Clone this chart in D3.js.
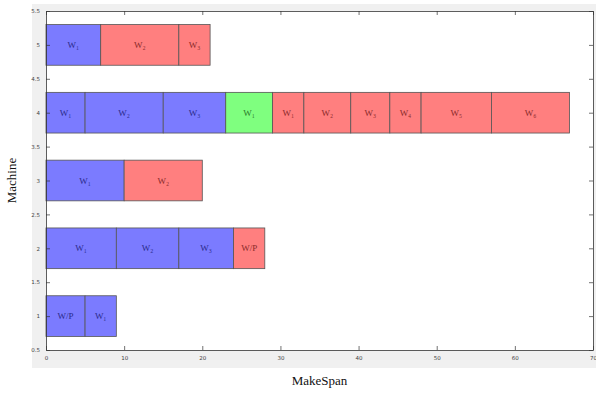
<!DOCTYPE html>
<html>
<head>
<meta charset="utf-8">
<script src="https://cdn.jsdelivr.net/npm/d3@7"></script>
<style>
  html, body { margin: 0; padding: 0; background: #fff; }
  svg { display: block; }
</style>
</head>
<body>
<svg id="chart" width="596" height="393"></svg>
<script>
// Schedule: one row per machine, operations as [start, end] with a type
const machines = [1, 2, 3, 4, 5];
const starts = [
  [0, 5],
  [0, 9, 17, 24],
  [0, 10],
  [0, 5, 15, 23, 29, 33, 39, 44, 48, 57],
  [0, 7, 17]
];
const ends = [
  [5, 9],
  [9, 17, 24, 28],
  [10, 20],
  [5, 15, 23, 29, 33, 39, 44, 48, 57, 67],
  [7, 17, 21]
];
const kinds = [
  ["b", "b"],
  ["b", "b", "b", "r"],
  ["b", "r"],
  ["b", "b", "b", "g", "r", "r", "r", "r", "r", "r"],
  ["b", "r", "r"]
];
const labels = [
  ["W/P", "W\u2081"],
  ["W\u2081", "W\u2082", "W\u2083", "W/P"],
  ["W\u2081", "W\u2082"],
  ["W\u2081", "W\u2082", "W\u2083", "W\u2081", "W\u2081", "W\u2082", "W\u2083", "W\u2084", "W\u2085", "W\u2086"],
  ["W\u2081", "W\u2082", "W\u2083"]
];
const xTicks = [0, 10, 20, 30, 40, 50, 60, 70];
const yTicks = [0.5, 1, 1.5, 2, 2.5, 3, 3.5, 4, 4.5, 5, 5.5];

const fill = { b: "#7b7bff", r: "#ff7f7f", g: "#7fff7f" };
const ink = { b: "#2a2a8a", r: "#8a2a2a", g: "#2a7a2a" };

const svg = d3.select("#chart");
const mLeft = 46, mRight = 593, mTop = 11, mBottom = 350;

// light grey figure margin around the axes
svg.append("rect").attr("x", 32).attr("y", 4).attr("width", 564).attr("height", 364).attr("fill", "#f0f0f0");
svg.append("rect").attr("x", mLeft).attr("y", mTop).attr("width", mRight - mLeft).attr("height", mBottom - mTop).attr("fill", "#fff");

const x = d3.scaleLinear().domain([0, 70]).range([mLeft, mRight]);
const y = d3.scaleLinear().domain([0.5, 5.5]).range([mBottom, mTop]);
const barH = y(0) - y(0.6);

const ops = [];
machines.forEach((m, i) => {
  starts[i].forEach((s, j) => {
    ops.push({ m, s, e: ends[i][j], k: kinds[i][j], t: labels[i][j] });
  });
});

const g = svg.append("g");
g.selectAll("rect.op").data(ops).join("rect")
  .attr("class", "op")
  .attr("x", d => x(d.s))
  .attr("y", d => y(d.m) - barH / 2)
  .attr("width", d => x(d.e) - x(d.s))
  .attr("height", barH)
  .attr("fill", d => fill[d.k])
  .attr("stroke", "#555")
  .attr("stroke-width", 0.8);

g.selectAll("text.op").data(ops).join("text")
  .attr("class", "op")
  .attr("x", d => (x(d.s) + x(d.e)) / 2)
  .attr("y", d => y(d.m) + 3)
  .attr("text-anchor", "middle")
  .attr("font-family", "Liberation Serif, serif")
  .attr("font-size", 9)
  .attr("fill", d => ink[d.k])
  .text(d => d.t);

// axes with ticks on all four sides (box)
const tickStyle = sel => {
  sel.select(".domain").attr("stroke", "#333").attr("stroke-width", 0.8);
  sel.selectAll(".tick line").attr("stroke", "#333").attr("stroke-width", 0.7);
  sel.selectAll(".tick text").attr("fill", "#444").attr("font-family", "DejaVu Sans, sans-serif").attr("font-size", 5.5);
};

svg.append("g").attr("transform", `translate(0,${mBottom})`)
  .call(d3.axisBottom(x).tickValues(xTicks).tickSize(-4).tickPadding(6).tickSizeOuter(0))
  .call(tickStyle);
svg.append("g").attr("transform", `translate(0,${mTop})`)
  .call(d3.axisTop(x).tickValues(xTicks).tickSize(-4).tickFormat("").tickSizeOuter(0))
  .call(tickStyle);
svg.append("g").attr("transform", `translate(${mLeft},0)`)
  .call(d3.axisLeft(y).tickValues(yTicks).tickSize(-4).tickPadding(6).tickSizeOuter(0)
    .tickFormat(d => Number.isInteger(d) ? d3.format("d")(d) : d3.format(".1f")(d)))
  .call(tickStyle);
svg.append("g").attr("transform", `translate(${mRight},0)`)
  .call(d3.axisRight(y).tickValues(yTicks).tickSize(-4).tickFormat("").tickSizeOuter(0))
  .call(tickStyle);

svg.append("text")
  .attr("x", (mLeft + mRight) / 2).attr("y", 385)
  .attr("text-anchor", "middle")
  .attr("font-family", "Liberation Serif, serif")
  .attr("font-size", 13)
  .attr("fill", "#111")
  .text("MakeSpan");

svg.append("text")
  .attr("transform", `translate(16,${(mTop + mBottom) / 2}) rotate(-90)`)
  .attr("text-anchor", "middle")
  .attr("font-family", "Liberation Serif, serif")
  .attr("font-size", 13)
  .attr("fill", "#111")
  .text("Machine");
</script>
</body>
</html>
